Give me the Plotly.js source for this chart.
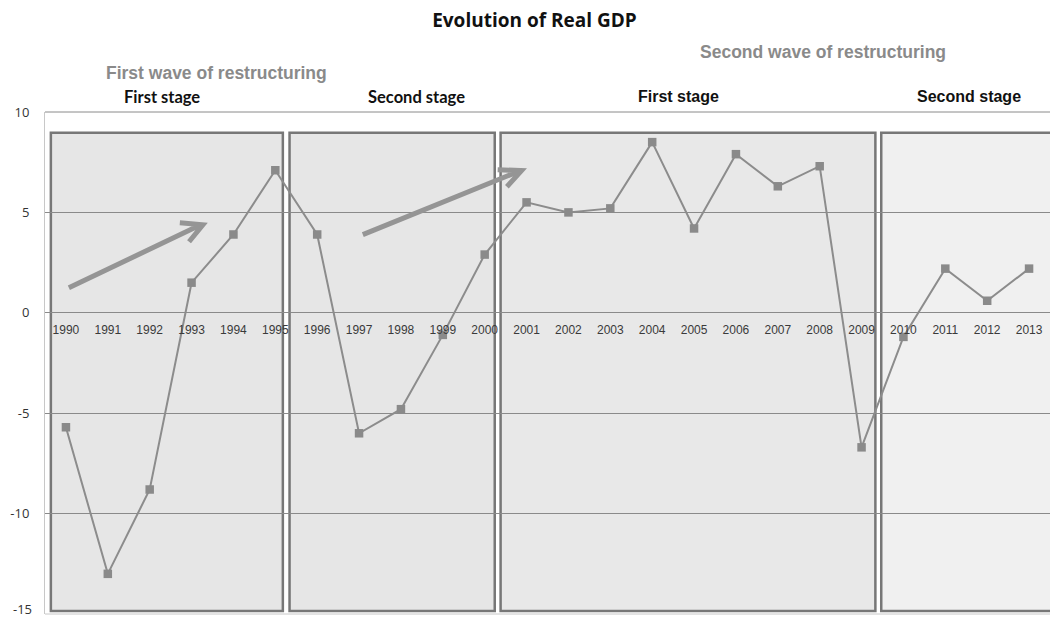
<!DOCTYPE html>
<html>
<head>
<meta charset="utf-8">
<script src="https://cdn.plot.ly/plotly-3.0.1.min.js"></script>
<style>html,body{margin:0;padding:0;background:#fff;}#chart{width:1050px;height:621px;}</style>
</head>
<body>
<div id="chart"></div>
<script>
// Data
const years = ['1990','1991','1992','1993','1994','1995','1996','1997','1998','1999','2000','2001','2002','2003','2004','2005','2006','2007','2008','2009','2010','2011','2012','2013'];
const realGDP = [-5.7, -13.0, -8.8, 1.5, 3.9, 7.1, 3.9, -6.0, -4.8, -1.1, 2.9, 5.5, 5.0, 5.2, 8.5, 4.2, 7.9, 6.3, 7.3, -6.7, -1.2, 2.2, 0.6, 2.2];
const yTicks = [-15, -10, -5, 0, 5, 10];
const waveLabels = ['First wave of restructuring', 'Second wave of restructuring'];
const stageLabels = ['First stage', 'Second stage', 'First stage', 'Second stage'];

const trace = {
  x: years, y: realGDP, type: 'scatter', mode: 'lines+markers',
  line: {color: '#8c8c8c', width: 2},
  marker: {symbol: 'square', size: 8.5, color: '#8a8a8a'},
  cliponaxis: false, hoverinfo: 'x+y'
};

const boxStyle = {type: 'rect', xref: 'x', yref: 'y', layer: 'below', line: {color: '#777', width: 2.5}};
const shapes = [
  Object.assign({}, boxStyle, {x0: -0.36, x1: 5.18, y0: -14.85, y1: 8.97, fillcolor: '#e6e6e6'}),
  Object.assign({}, boxStyle, {x0: 5.34, x1: 10.24, y0: -14.85, y1: 8.97, fillcolor: '#e6e6e6'}),
  Object.assign({}, boxStyle, {x0: 10.38, x1: 19.33, y0: -14.85, y1: 8.97, fillcolor: '#e8e8e8'}),
  Object.assign({}, boxStyle, {x0: 19.47, x1: 24.2, y0: -14.85, y1: 8.97, fillcolor: '#f0f0f0'}),
  // plot-area top and bottom border lines
  {type: 'line', xref: 'paper', yref: 'paper', x0: 0, x1: 1, y0: 1, y1: 1, layer: 'below', line: {color: '#8a8a8a', width: 1}},
  {type: 'line', xref: 'paper', yref: 'paper', x0: 0, x1: 1, y0: 0, y1: 0, layer: 'below', line: {color: '#c8c8c8', width: 1}},
  // arrows
  {type: 'path', xref: 'x', yref: 'y', layer: 'above',
   path: 'M 0.07 1.25 L 3.22 4.38 M 2.72 4.48 L 3.27 4.38 L 2.94 3.54',
   line: {color: '#959595', width: 5}},
  {type: 'path', xref: 'x', yref: 'y', layer: 'above',
   path: 'M 7.09 3.89 L 10.83 7.06 M 10.31 7.13 L 10.88 7.08 L 10.53 6.28',
   line: {color: '#959595', width: 5}}
];

const waveFont = {family: 'Liberation Sans, Arial, sans-serif', size: 17.5, color: '#8a8a8a'};
const calibriLike = {family: 'Lato, Open Sans, sans-serif', size: 16.5, color: '#111'};
const arialBold = {family: 'Liberation Sans, Arial, sans-serif', size: 16, color: '#111'};
const yTickFont = {family: 'Open Sans, Liberation Sans, sans-serif', size: 13, color: '#333'};

const labelSpecs = [
  {text: waveLabels[0], px: 216, py: 73, font: waveFont},
  {text: waveLabels[1], px: 823, py: 52, font: waveFont},
  {text: stageLabels[0], px: 162, py: 97, font: calibriLike},
  {text: stageLabels[1], px: 416, py: 97, font: calibriLike},
  {text: stageLabels[2], px: 678, py: 96, font: arialBold},
  {text: stageLabels[3], px: 969, py: 96, font: arialBold}
];
const annotations = labelSpecs.map(s => ({
  text: '<b>' + s.text + '</b>', xref: 'paper', yref: 'paper',
  x: (s.px - 45) / 1005, y: (614 - s.py) / 502, xanchor: 'center', yanchor: 'middle',
  showarrow: false, font: s.font
}));
// bottom y tick label (Plotly drops the label sitting on the lower range edge here)
annotations.push({text: String(yTicks[0]), xref: 'paper', yref: 'y', x: 0, y: yTicks[0],
  xanchor: 'right', yanchor: 'bottom', yshift: -6, xshift: -11, showarrow: false, font: yTickFont});

const layout = {
  width: 1050, height: 621,
  margin: {l: 45, r: 0, t: 112, b: 7},
  paper_bgcolor: '#ffffff', plot_bgcolor: '#ffffff',
  showlegend: false,
  title: {text: '<b>Evolution of Real GDP</b>', x: 0.509, xanchor: 'center', y: 0.967, yanchor: 'middle',
          font: {family: 'Open Sans, Lato, sans-serif', size: 19, color: '#111'}},
  xaxis: {type: 'category', categoryorder: 'array', categoryarray: years, range: [-0.5, 23.5],
          anchor: 'free', position: 0.6, showline: false, showgrid: false, zeroline: false, ticks: '',
          ticklabelstandoff: 8,
          tickfont: {family: 'Liberation Sans, Arial, sans-serif', size: 12, color: '#3a3a3a'}, fixedrange: true},
  yaxis: {range: [-15, 10], tickvals: yTicks.slice(1), ticktext: yTicks.slice(1).map(String), showgrid: true, gridcolor: '#8a8a8a', gridwidth: 1,
          zeroline: true, zerolinecolor: '#8a8a8a', zerolinewidth: 1, showline: true, linecolor: '#c8c8c8', linewidth: 1,
          ticks: '', ticklabelstandoff: 12,
          tickfont: yTickFont, fixedrange: true},
  shapes: shapes,
  annotations: annotations
};

Plotly.newPlot('chart', [trace], layout, {displayModeBar: false, staticPlot: true});
</script>
</body>
</html>
